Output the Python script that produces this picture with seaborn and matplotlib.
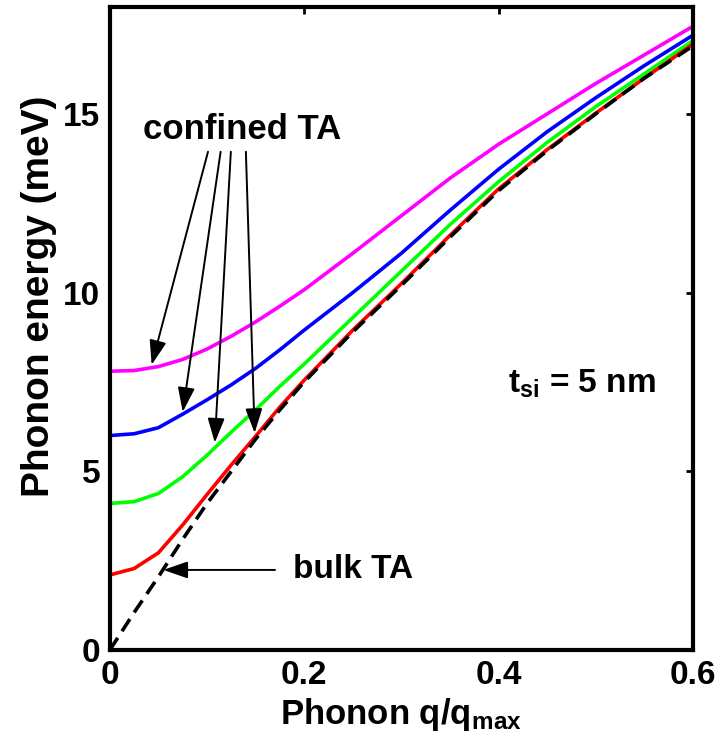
import numpy as np
import pandas as pd
import matplotlib
matplotlib.use("Agg")
import matplotlib.pyplot as plt
import seaborn as sns

# ---- data ----
q = [0.0, 0.025, 0.05, 0.075, 0.1, 0.125, 0.15, 0.175, 0.2, 0.25, 0.3, 0.35, 0.4, 0.45, 0.5, 0.55, 0.6]
mode4 = [7.8, 7.82, 7.93, 8.13, 8.42, 8.78, 9.18, 9.62, 10.08, 11.1, 12.15, 13.2, 14.15, 15.0, 15.85, 16.65, 17.45]
mode3 = [6.0, 6.05, 6.22, 6.6, 7.0, 7.42, 7.88, 8.4, 8.95, 10.0, 11.1, 12.3, 13.45, 14.5, 15.45, 16.35, 17.2]
mode2 = [4.1, 4.15, 4.38, 4.85, 5.45, 6.1, 6.72, 7.38, 8.0, 9.3, 10.6, 11.9, 13.1, 14.2, 15.2, 16.12, 17.05]
mode1 = [2.1, 2.28, 2.72, 3.5, 4.35, 5.18, 5.98, 6.8, 7.55, 8.95, 10.25, 11.6, 12.9, 14.0, 15.02, 16.0, 16.95]
bulk = [0.0, 1.05, 2.05, 3.1, 4.1, 5.0, 5.9, 6.72, 7.5, 8.9, 10.2, 11.55, 12.85, 13.97, 15.0, 16.0, 16.9]
mode_names = ["mode 4", "mode 3", "mode 2", "mode 1"]
mode_colors = ["#ff00ff", "#0000ff", "#00ff00", "#ff0000"]
xticks = [0, 0.2, 0.4, 0.6]
xticklabels = ["0", "0.2", "0.4", "0.6"]
yticks = [0, 5, 10, 15]
yticklabels = ["0", "5", "10", "15"]

sns.set_style("white")
plt.rcParams["font.family"] = ["Liberation Sans", "DejaVu Sans"]
plt.rcParams["font.weight"] = "bold"
plt.rcParams["text.color"] = "black"
plt.rcParams["axes.labelcolor"] = "black"
plt.rcParams["xtick.color"] = "black"
plt.rcParams["ytick.color"] = "black"
plt.rcParams["mathtext.fontset"] = "custom"
plt.rcParams["mathtext.rm"] = "Liberation Sans"
plt.rcParams["mathtext.bf"] = "Liberation Sans:bold"
plt.rcParams["mathtext.default"] = "regular"

rows = []
for name, vals in zip(mode_names, [mode4, mode3, mode2, mode1]):
    for x, y in zip(q, vals):
        rows.append({"q": x, "E": y, "mode": name})
df = pd.DataFrame(rows)
dfb = pd.DataFrame({"q": q, "E": bulk})

fig = plt.figure(figsize=(7.18, 7.42), dpi=100)
ax = fig.add_axes([0.153, 0.124, 0.812, 0.867])

sns.lineplot(data=df, x="q", y="E", hue="mode", hue_order=mode_names,
             palette=dict(zip(mode_names, mode_colors)), lw=2.6, ax=ax,
             legend=False, sort=True)
sns.lineplot(data=dfb, x="q", y="E", color="k", lw=2.6, ax=ax, legend=False)
ax.lines[-1].set_dashes([4, 2.2])

ax.set_xlim(0, 0.6)
ax.set_ylim(0, 18)
ax.set_xticks(xticks)
ax.set_xticklabels(xticklabels)
ax.set_yticks(yticks)
ax.set_yticklabels(yticklabels)
ax.tick_params(direction="in", length=5, width=2, top=True, right=True,
               labelsize=24, pad=7, colors="black")
for s in ax.spines.values():
    s.set_linewidth(3)
    s.set_color("k")
    s.set_visible(True)

ax.set_xlabel(r"Phonon q/q$_{max}$", fontsize=25, fontweight="bold", labelpad=4)
ax.set_ylabel("Phonon energy (meV)", fontsize=28, fontweight="bold")
ax.yaxis.set_label_coords(-0.09, 0.55)

# annotations
ax.text(0.136, 14.55, "confined TA", fontsize=25, fontweight="bold",
        ha="center", va="center")
astyle = "-|>,head_length=0.75,head_width=0.26"
starts = [(0.101, 13.94), (0.114, 13.94), (0.1245, 13.94), (0.140, 13.94)]
tips = [(0.043, 7.98), (0.075, 6.66), (0.108, 5.80), (0.149, 6.07)]
for (sx, sy), (tx, ty) in zip(starts, tips):
    ax.annotate("", xy=(tx, ty), xytext=(sx, sy),
                arrowprops=dict(arrowstyle=astyle, color="k", lw=1.4,
                                mutation_scale=20, shrinkA=0, shrinkB=0))
ax.annotate("", xy=(0.055, 2.24), xytext=(0.170, 2.24),
            arrowprops=dict(arrowstyle=astyle, color="k", lw=1.4,
                            mutation_scale=20, shrinkA=0, shrinkB=0))
ax.text(0.188, 2.24, "bulk TA", fontsize=24, fontweight="bold",
        ha="left", va="center")
ax.text(0.41, 7.2, r"t$_{\mathbf{si}}$ = 5 nm", fontsize=24, fontweight="bold",
        ha="left", va="baseline")

fig.savefig("out.png", dpi=100)
